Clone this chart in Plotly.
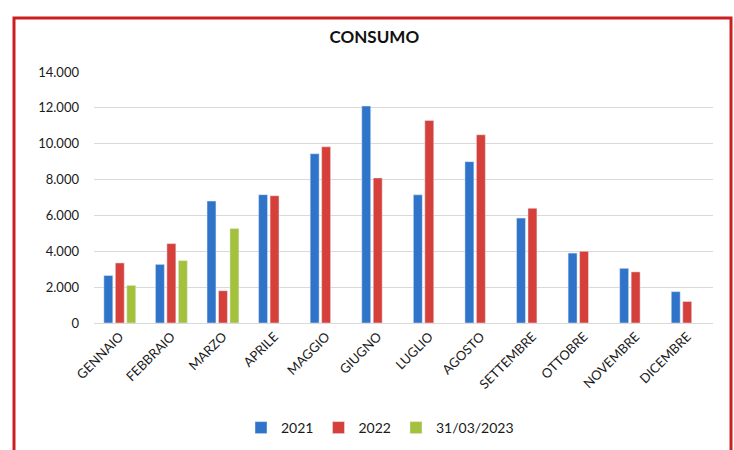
import plotly.graph_objects as go

# Monthly consumption by year
mesi = ["GENNAIO", "FEBBRAIO", "MARZO", "APRILE", "MAGGIO", "GIUGNO",
        "LUGLIO", "AGOSTO", "SETTEMBRE", "OTTOBRE", "NOVEMBRE", "DICEMBRE"]
consumo_2021 = [2650, 3270, 6800, 7160, 9440, 12100, 7150, 9000, 5850, 3900, 3050, 1750]
consumo_2022 = [3350, 4430, 1800, 7100, 9830, 8090, 11300, 10500, 6400, 4000, 2850, 1200]
consumo_2023 = [2100, 3480, 5270, None, None, None, None, None, None, None, None, None]

FONT = "Lato, 'Open Sans', sans-serif"

fig = go.Figure()
fig.add_trace(go.Bar(name="2021", x=mesi, y=consumo_2021, marker_color="#2f74c9"))
fig.add_trace(go.Bar(name="2022", x=mesi, y=consumo_2022, marker_color="#d6403b"))
fig.add_trace(go.Bar(name="31/03/2023", x=mesi, y=consumo_2023, marker_color="#a3c13a"))

fig.update_layout(
    width=734, height=450,
    margin=dict(l=94, r=21, t=72, b=127),
    paper_bgcolor="white", plot_bgcolor="white",
    separators=",.",
    barmode="group", bargap=0.333, bargroupgap=0.22,
    font=dict(family=FONT, size=13, color="#1a1a1a"),
    title=dict(text="<b>CONSUMO</b>", x=0.51, xanchor="center",
               y=1 - 37 / 450, yanchor="middle", yref="container",
               font=dict(family=FONT, size=17, color="#111111")),
    legend=dict(orientation="h", xref="container", yref="container",
                x=380 / 734, xanchor="center", y=1 - 428 / 450, yanchor="middle",
                font=dict(family=FONT, size=14, color="#1a1a1a"),
                itemwidth=30, traceorder="normal"),
    xaxis=dict(tickangle=-45, showgrid=False, showline=True, linecolor="#d9d9d9",
               tickfont=dict(family=FONT, size=13, color="#1a1a1a")),
    yaxis=dict(range=[0, 14000], dtick=2000, tickformat=",d",
               showgrid=True, gridcolor="#d9d9d9", gridwidth=1,
               zeroline=False, ticklabelstandoff=14,
               tickfont=dict(family=FONT, size=13, color="#1a1a1a")),
    shapes=[dict(type="rect", xref="paper", yref="paper",
                 x0=(14 - 94) / 619, x1=(731 - 94) / 619,
                 y0=(323 - 460) / 251, y1=(323 - 18) / 251,
                 line=dict(color="#cc2020", width=3), layer="above")],
)

fig.write_html("out.html")
